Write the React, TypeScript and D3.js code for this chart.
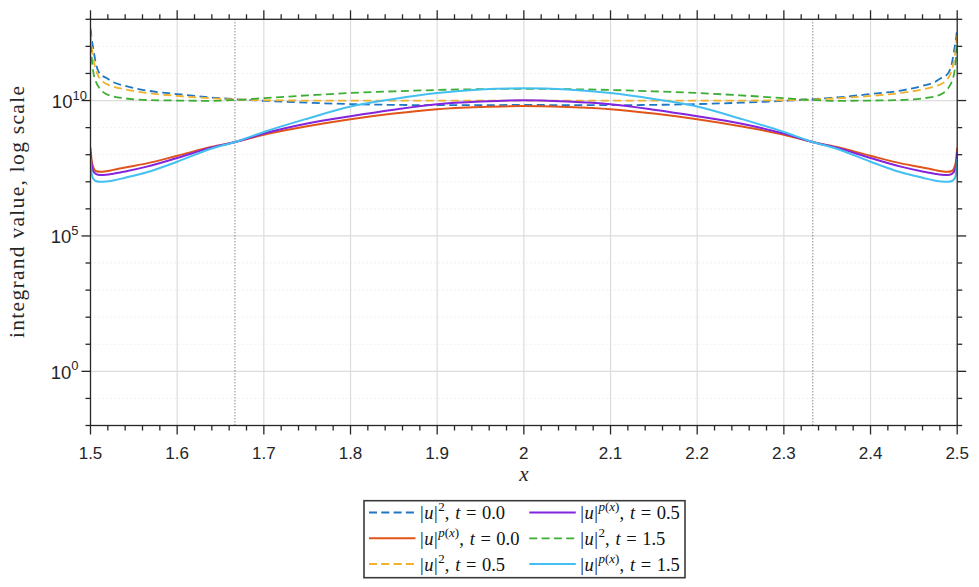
import React, { useEffect, useRef } from "react";
import * as d3 from "d3";

// sample positions along x (shared by all six curves)
const xs = [
  1.5, 1.5013, 1.503, 1.506, 1.511, 1.518, 1.525, 1.54, 1.565, 1.6, 1.64, 1.667,
  1.7, 1.75, 1.8, 1.85, 1.9, 1.95, 2.0, 2.05, 2.1, 2.15, 2.2, 2.25, 2.3, 2.333,
  2.36, 2.4, 2.435, 2.46, 2.475, 2.482, 2.489, 2.494, 2.497, 2.4987, 2.5,
];

// log10 of the integrand value
const u2T00 = [
  12.66, 12.3, 11.96, 11.4, 10.98, 10.84, 10.7, 10.54, 10.37, 10.24, 10.11, 10.05,
  9.99, 9.92, 9.87, 9.84, 9.83, 9.83, 9.84, 9.83, 9.83, 9.84, 9.87, 9.92, 9.99,
  10.05, 10.11, 10.24, 10.37, 10.54, 10.7, 10.84, 10.98, 11.4, 11.96, 12.3, 12.66,
];
const upT00 = [
  8.26, 7.79, 7.56, 7.4, 7.37, 7.39, 7.43, 7.53, 7.68, 7.96, 8.29, 8.47, 8.74,
  9.05, 9.31, 9.52, 9.68, 9.76, 9.8, 9.76, 9.68, 9.52, 9.31, 9.05, 8.74, 8.47,
  8.29, 7.96, 7.68, 7.53, 7.43, 7.39, 7.37, 7.4, 7.56, 7.79, 8.26,
];
const u2T05 = [
  12.45, 12.0, 11.6, 11.15, 10.8, 10.62, 10.53, 10.41, 10.28, 10.17, 10.08, 10.04,
  10.01, 10.0, 10.0, 10.0, 10.0, 10.0, 10.0, 10.0, 10.0, 10.0, 10.0, 10.0, 10.01,
  10.04, 10.08, 10.17, 10.28, 10.41, 10.53, 10.62, 10.8, 11.15, 11.6, 12.0, 12.45,
];
const upT05 = [
  8.11, 7.62, 7.4, 7.29, 7.25, 7.26, 7.29, 7.38, 7.56, 7.88, 8.27, 8.47, 8.78,
  9.15, 9.42, 9.66, 9.86, 9.96, 10.01, 9.96, 9.86, 9.66, 9.42, 9.15, 8.78, 8.47,
  8.27, 7.88, 7.56, 7.38, 7.29, 7.26, 7.25, 7.29, 7.4, 7.62, 8.11,
];
const u2T15 = [
  12.08, 11.6, 11.1, 10.72, 10.43, 10.24, 10.16, 10.08, 10.02, 10.0, 9.99, 10.02,
  10.09, 10.19, 10.28, 10.34, 10.39, 10.42, 10.43, 10.42, 10.39, 10.34, 10.28,
  10.19, 10.09, 10.02, 9.99, 10.0, 10.02, 10.08, 10.16, 10.24, 10.43, 10.72, 11.1,
  11.6, 12.08,
];
const upT15 = [
  7.86, 7.31, 7.12, 7.03, 7.0, 7.01, 7.04, 7.15, 7.35, 7.74, 8.23, 8.47, 8.84,
  9.33, 9.78, 10.06, 10.28, 10.41, 10.45, 10.41, 10.28, 10.06, 9.78, 9.33, 8.84,
  8.47, 8.23, 7.74, 7.35, 7.15, 7.04, 7.01, 7.0, 7.03, 7.12, 7.31, 7.86,
];

const xTicks = [1.5, 1.6, 1.7, 1.8, 1.9, 2, 2.1, 2.2, 2.3, 2.4, 2.5];
const yTickExps = [0, 5, 10];
const markers = [5 / 3, 7 / 3];

const series = [
  { label: ["2", "0.0"], values: u2T00, color: "#1f77c4", dashed: true },
  { label: ["p(x)", "0.0"], values: upT00, color: "#e0561a", dashed: false },
  { label: ["2", "0.5"], values: u2T05, color: "#f2b12a", dashed: true },
  { label: ["p(x)", "0.5"], values: upT05, color: "#8424dc", dashed: false },
  { label: ["2", "1.5"], values: u2T15, color: "#3cae35", dashed: true },
  { label: ["p(x)", "1.5"], values: upT15, color: "#43bff0", dashed: false },
];

const W = 979;
const H = 587;
const m = { left: 90.5, right: 957.2, top: 19.3, bottom: 425.5 };

const App: React.FC = () => {
  const svgRef = useRef<SVGSVGElement | null>(null);

  useEffect(() => {
    const svg = d3.select(svgRef.current);
    svg.selectAll("*").remove();

    const x = d3.scaleLinear().domain([1.5, 2.5]).range([m.left, m.right]);
    const y = d3.scaleLog().domain([1e-2, 1e13]).range([m.bottom, m.top]);

    const axisColor = "#262626";
    const sans = "'Liberation Sans', Arial, sans-serif";
    const serif = "'Liberation Serif', 'Times New Roman', serif";

    svg.append("rect").attr("width", W).attr("height", H).attr("fill", "#fff");

    // minor horizontal grid (every decade)
    const decades = d3.range(-2, 14);
    svg
      .append("g")
      .selectAll("line")
      .data(decades.filter((e) => !yTickExps.includes(e) && e > -2 && e < 13))
      .enter()
      .append("line")
      .attr("x1", m.left)
      .attr("x2", m.right)
      .attr("y1", (e) => y(Math.pow(10, e)))
      .attr("y2", (e) => y(Math.pow(10, e)))
      .attr("stroke", "#e3e3e3")
      .attr("stroke-width", 1)
      .attr("stroke-dasharray", "1,3");

    // major grid
    const grid = svg.append("g").attr("stroke", "#dcdcdc").attr("stroke-width", 1.2);
    grid
      .selectAll("line.v")
      .data(xTicks.slice(1, -1))
      .enter()
      .append("line")
      .attr("x1", (d) => x(d))
      .attr("x2", (d) => x(d))
      .attr("y1", m.top)
      .attr("y2", m.bottom);
    grid
      .selectAll("line.h")
      .data(yTickExps)
      .enter()
      .append("line")
      .attr("x1", m.left)
      .attr("x2", m.right)
      .attr("y1", (e) => y(Math.pow(10, e)))
      .attr("y2", (e) => y(Math.pow(10, e)));

    // dotted vertical markers
    svg
      .append("g")
      .selectAll("line")
      .data(markers)
      .enter()
      .append("line")
      .attr("x1", (d) => x(d))
      .attr("x2", (d) => x(d))
      .attr("y1", m.top)
      .attr("y2", m.bottom)
      .attr("stroke", "#555")
      .attr("stroke-width", 1)
      .attr("stroke-dasharray", "1,2");

    // curves
    svg
      .append("clipPath")
      .attr("id", "plotclip")
      .append("rect")
      .attr("x", m.left)
      .attr("y", m.top)
      .attr("width", m.right - m.left)
      .attr("height", m.bottom - m.top);

    const line = d3
      .line<number>()
      .x((_, i) => x(xs[i]))
      .y((v) => y(Math.pow(10, v)))
      .curve(d3.curveMonotoneX);

    const curves = svg.append("g").attr("clip-path", "url(#plotclip)");
    series.forEach((s) => {
      curves
        .append("path")
        .attr("d", line(s.values) as string)
        .attr("fill", "none")
        .attr("stroke", s.color)
        .attr("stroke-width", s.dashed ? 1.8 : 2)
        .attr("stroke-dasharray", s.dashed ? "8,4.5" : null);
    });

    // axes box and ticks
    const ax = svg.append("g").attr("stroke", axisColor).attr("stroke-width", 1.3);
    ax.append("rect")
      .attr("x", m.left)
      .attr("y", m.top)
      .attr("width", m.right - m.left)
      .attr("height", m.bottom - m.top)
      .attr("fill", "none");

    const xMinor = d3.range(0, 51).map((i) => 1.5 + i * 0.02);
    xMinor.forEach((t) => {
      const major = Math.abs(Math.round(t * 10) - t * 10) < 1e-6;
      const len = major ? 9 : 5;
      ax.append("line").attr("x1", x(t)).attr("x2", x(t)).attr("y1", m.bottom).attr("y2", m.bottom + len);
      ax.append("line").attr("x1", x(t)).attr("x2", x(t)).attr("y1", m.top).attr("y2", m.top - len);
    });
    decades.forEach((e) => {
      const major = yTickExps.includes(e);
      const len = major ? 9 : 5;
      const yy = y(Math.pow(10, e));
      ax.append("line").attr("x1", m.left - len).attr("x2", m.left).attr("y1", yy).attr("y2", yy);
      ax.append("line").attr("x1", m.right).attr("x2", m.right + len).attr("y1", yy).attr("y2", yy);
    });

    // x tick labels
    const fmt = d3.format("~g");
    svg
      .append("g")
      .selectAll("text")
      .data(xTicks)
      .enter()
      .append("text")
      .attr("x", (d) => x(d))
      .attr("y", m.bottom + 33)
      .attr("text-anchor", "middle")
      .attr("font-family", sans)
      .attr("font-size", 17)
      .attr("fill", axisColor)
      .text((d) => fmt(d));

    // y tick labels 10^e
    yTickExps.forEach((e) => {
      const yy = y(Math.pow(10, e));
      const t = svg
        .append("text")
        .attr("x", 78.5 + (String(e).length - 1) * 8.4)
        .attr("y", yy + 7.5)
        .attr("text-anchor", "end")
        .attr("font-family", sans)
        .attr("font-size", 18.5)
        .attr("fill", axisColor);
      t.append("tspan").text("10");
      t.append("tspan").attr("font-size", 13).attr("dy", -8.5).text(String(e));
    });

    // axis titles
    svg
      .append("text")
      .attr("transform", `translate(24, 212) rotate(-90)`)
      .attr("text-anchor", "middle")
      .attr("font-family", serif)
      .attr("font-size", 21.5)
      .attr("textLength", 252)
      .attr("lengthAdjust", "spacing")
      .attr("fill", axisColor)
      .text("integrand value, log scale");

    svg
      .append("text")
      .attr("x", x(2))
      .attr("y", 481)
      .attr("text-anchor", "middle")
      .attr("font-family", serif)
      .attr("font-style", "italic")
      .attr("font-size", 21)
      .attr("fill", axisColor)
      .text("x");

    // legend
    const lg = svg.append("g");
    lg.append("rect")
      .attr("x", 364)
      .attr("y", 500.7)
      .attr("width", 321)
      .attr("height", 77)
      .attr("fill", "#fff")
      .attr("stroke", "#3a3a3a")
      .attr("stroke-width", 1.6);

    const rowY = [512.5, 538.3, 564];
    const colX = [369, 529.3];
    series.forEach((s, i) => {
      const col = Math.floor(i / 3);
      const row = i % 3;
      const lx = colX[col];
      const ly = rowY[row];
      lg.append("line")
        .attr("x1", lx)
        .attr("x2", lx + 46.5)
        .attr("y1", ly)
        .attr("y2", ly)
        .attr("stroke", s.color)
        .attr("stroke-width", s.dashed ? 1.8 : 2)
        .attr("stroke-dasharray", s.dashed ? "8,4.3" : null);

      const t = lg
        .append("text")
        .attr("x", lx + 51)
        .attr("y", ly + 6.5)
        .attr("font-family", serif)
        .attr("font-size", 18.5)
        .attr("fill", "#111");
      t.append("tspan").text("|");
      t.append("tspan").attr("font-style", "italic").attr("dx", 0.5).text("u");
      t.append("tspan").attr("dx", 0.5).text("|");
      if (s.label[0] === "2") {
        t.append("tspan").attr("font-size", 13).attr("dy", -8).attr("dx", 0.5).text("2");
      } else {
        const st = t.append("tspan").attr("font-size", 13).attr("dy", -8).attr("dx", 0.5);
        st.append("tspan").attr("font-style", "italic").text("p");
        st.append("tspan").text("(");
        st.append("tspan").attr("font-style", "italic").text("x");
        st.append("tspan").text(")");
      }
      t.append("tspan").attr("dy", 8).text(",");
      t.append("tspan").attr("dx", 6).attr("font-style", "italic").text("t");
      t.append("tspan").attr("dx", 5.5).text("=");
      t.append("tspan").attr("dx", 5.5).text(s.label[1]);
    });
  }, []);

  return (
    <svg
      ref={svgRef}
      width={W}
      height={H}
      style={{ position: "absolute", left: 0, top: 0 }}
    />
  );
};

export default App;
